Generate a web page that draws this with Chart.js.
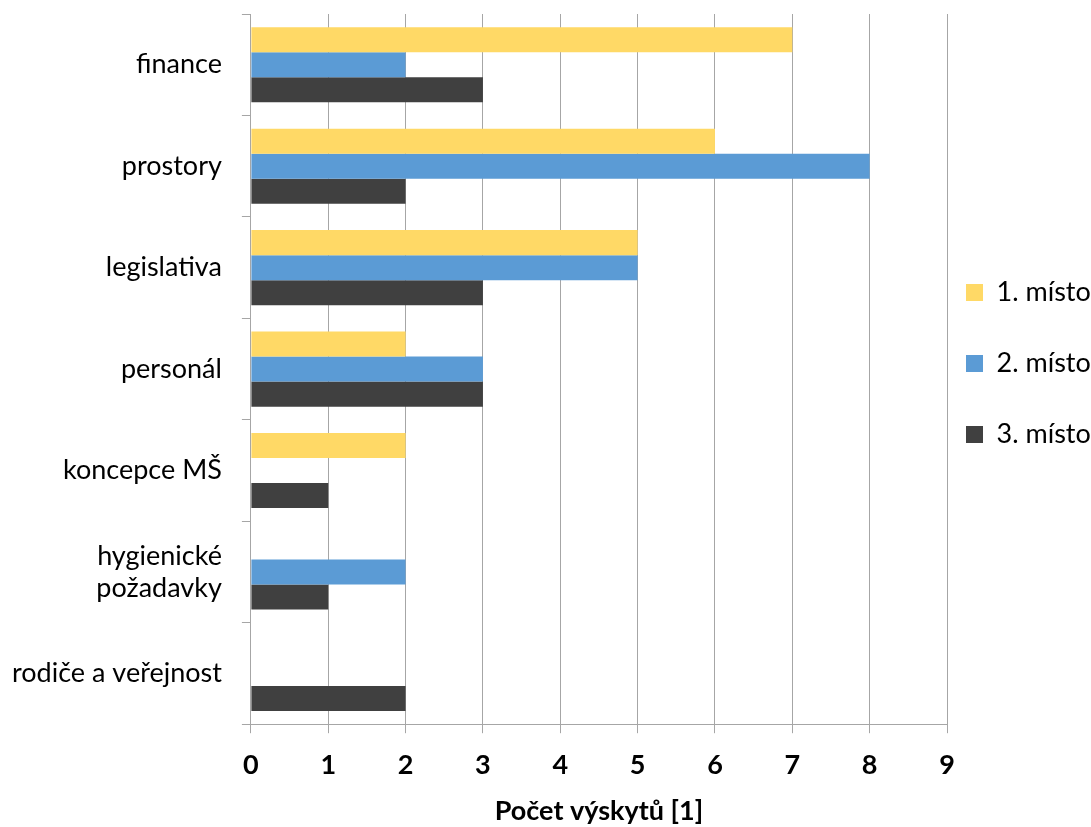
<!DOCTYPE html>
<html>
<head>
<meta charset="utf-8">
<script src="https://cdn.jsdelivr.net/npm/chart.js@4"></script>
<style>
  html, body { margin: 0; padding: 0; background: #fff; }
  #wrap { width: 1091px; height: 827px; }
</style>
</head>
<body>
<div id="wrap"><canvas id="chart" width="1091" height="827"></canvas></div>
<script>
const categories = ['finance', 'prostory', 'legislativa', 'personál', 'koncepce MŠ', ['hygienické', 'požadavky'], 'rodiče a veřejnost'];
const seriesNames = ['1. místo', '2. místo', '3. místo'];
const first = [7, 6, 5, 2, 2, 0, 0];
const second = [2, 8, 5, 3, 0, 2, 0];
const third = [3, 2, 3, 3, 1, 1, 2];
const xTicks = [0, 1, 2, 3, 4, 5, 6, 7, 8, 9];
const colors = ['#FFD966', '#5B9BD5', '#404040'];

const font = 'Lato, "Open Sans", sans-serif';
const gridColor = '#A6A6A6';

// legend keeps its row gap but sits a bit closer to the plot
const legendNudge = {
  id: 'legendNudge',
  afterLayout(chart) {
    if (chart.legend) chart.legend.left -= 25;
  },
};

// chart.js reserves tick padding on both sides of the labels and
// half a label at the ends; the reference has neither
const trimScale = scale => {
  const pad = scale.options.ticks.padding;
  if (scale.isHorizontal()) scale.height -= pad;
  else scale.width -= pad;
  scale.paddingTop = 0;
  scale.paddingBottom = 0;
  scale.paddingLeft = 0;
  scale.paddingRight = 0;
};

new Chart(document.getElementById('chart'), {
  type: 'bar',
  data: {
    labels: categories,
    datasets: [first, second, third].map((d, i) => ({
      label: seriesNames[i],
      data: d,
      backgroundColor: colors[i],
      borderWidth: 0,
      categoryPercentage: 0.74,
      barPercentage: 1,
    })),
  },
  plugins: [legendNudge],
  options: {
    indexAxis: 'y',
    responsive: false,
    animation: false,
    layout: { padding: { top: 14, left: 12, right: 0, bottom: 0 } },
    plugins: {
      tooltip: { enabled: false },
      legend: {
        position: 'right',
        align: 'start',
        maxWidth: 144,
        title: { display: true, text: ' ', font: { size: 10 }, padding: { top: 209, bottom: 0 } },
        labels: {
          font: { family: font, size: 27 },
          color: '#000',
          boxWidth: 17,
          boxHeight: 17,
          padding: 44,
        },
      },
    },
    scales: {
      x: {
        min: 0,
        max: 9,
        afterBuildTicks: axis => { axis.ticks = xTicks.map(v => ({ value: v })); },
        afterFit: trimScale,
        grid: { color: gridColor, lineWidth: 1, tickLength: 9 },
        border: { color: gridColor },
        ticks: { font: { family: font, size: 27, weight: 'bold' }, color: '#000', padding: 16 },
        title: {
          display: true,
          text: 'Počet výskytů [1]',
          font: { family: font, size: 27, weight: 'bold' },
          color: '#000',
          padding: { top: 13, bottom: 0 },
        },
      },
      y: {
        afterFit: trimScale,
        grid: { drawOnChartArea: false, color: gridColor, tickLength: 9, offset: true },
        border: { color: gridColor },
        ticks: { font: { family: font, size: 27 }, color: '#000', padding: 20 },
      },
    },
  },
});
</script>
</body>
</html>
